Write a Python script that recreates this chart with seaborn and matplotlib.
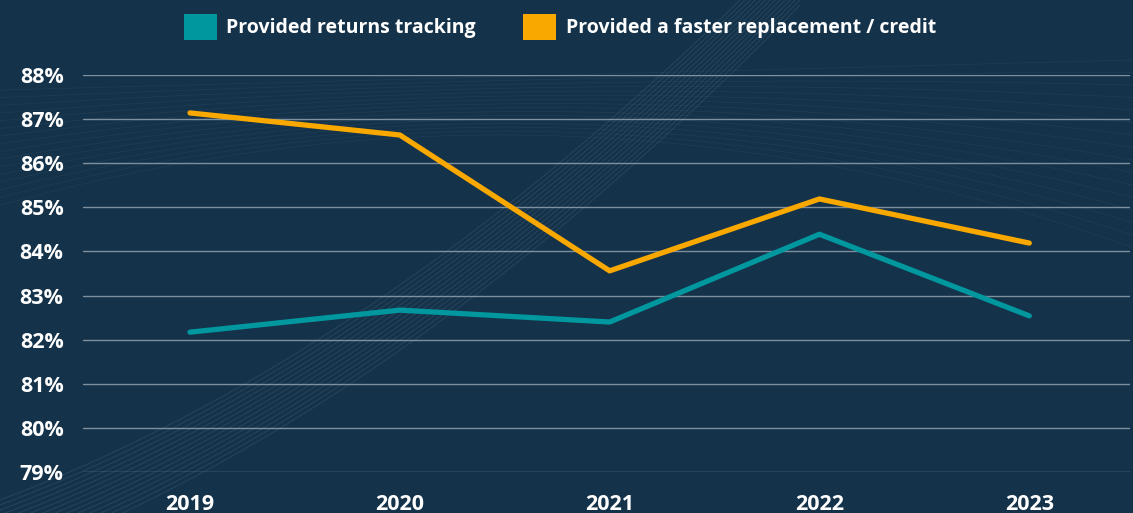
import numpy as np
import pandas as pd
import matplotlib.pyplot as plt
import seaborn as sns
from matplotlib.patches import Patch

years = ["2019", "2020", "2021", "2022", "2023"]
tracking = [82.17, 82.67, 82.40, 84.39, 82.54]
faster = [87.14, 86.64, 83.56, 85.19, 84.19]
series_names = ["Provided returns tracking", "Provided a faster replacement / credit"]
y_ticks = [79, 80, 81, 82, 83, 84, 85, 86, 87, 88]

bg = "#143249"
teal = "#00979f"
orange = "#f9a800"

df = pd.DataFrame({
    "value": tracking + faster,
    "series": [series_names[0]] * 5 + [series_names[1]] * 5,
    "pos": list(range(5)) * 2,
})

sns.set_theme(style="dark")
plt.rcParams["font.family"] = ["Open Sans", "DejaVu Sans"]

fig = plt.figure(figsize=(11.33, 5.13), dpi=100, facecolor=bg)

# faint background decoration: curved mesh band
deco = fig.add_axes([0, 0, 1, 1], zorder=0)
deco.set_xlim(0, 1133)
deco.set_ylim(513, 0)
deco.axis("off")
t = np.linspace(0, 1, 200)
for k in range(14):
    xs = t * 800
    ys = 520 - 300 * t - 260 * t ** 2 + k * 5 - 20
    deco.plot(xs, ys, color="#4a6a80", lw=0.7, alpha=0.35)
for k in range(16):
    xs = np.linspace(0, 1133, 60)
    ys = 90 + k * 3 + (xs / 1133) * (-30 + k * 2) + 0.0003 * (xs - 500) ** 2 * (k / 16)
    deco.plot(xs, ys, color="#4a6a80", lw=0.5, alpha=0.2)

ax = fig.add_axes([83 / 1133, 1 - 472 / 513, 1047 / 1133, (472 - 75) / 513], zorder=1)
ax.set_facecolor("none")

sns.lineplot(data=df, x="pos", y="value", hue="series",
             palette=[teal, orange], linewidth=3.8, ax=ax, legend=False)

ax.set_xlim(-0.51, 4.48)
ax.set_ylim(79, 88)
ax.set_yticks(y_ticks)
ax.set_yticklabels([f"{v}%" for v in y_ticks])
ax.set_xticks(range(5))
ax.set_xticklabels(years)
ax.grid(axis="y", color="#9aa8b4", linewidth=1, alpha=0.8)
ax.grid(axis="x", visible=False)
for s in ax.spines.values():
    s.set_visible(False)
ax.tick_params(axis="both", length=0, colors="white", labelsize=15.5)
ax.tick_params(axis="y", pad=14)
ax.tick_params(axis="x", pad=16)
for lbl in ax.get_xticklabels() + ax.get_yticklabels():
    lbl.set_fontweight("bold")
ax.set_xlabel("")
ax.set_ylabel("")

# legend at top
handles = [Patch(facecolor=teal, edgecolor="none"), Patch(facecolor=orange, edgecolor="none")]
fig.legend(handles, series_names, loc="center", bbox_to_anchor=(0.494, 1 - 27 / 513),
           ncol=2, frameon=False, labelcolor="white",
           handlelength=1.7, handleheight=1.7, handletextpad=0.5, columnspacing=2.4,
           prop={"weight": "bold", "size": 14})

fig.savefig("out.png", dpi=100, facecolor=bg)
